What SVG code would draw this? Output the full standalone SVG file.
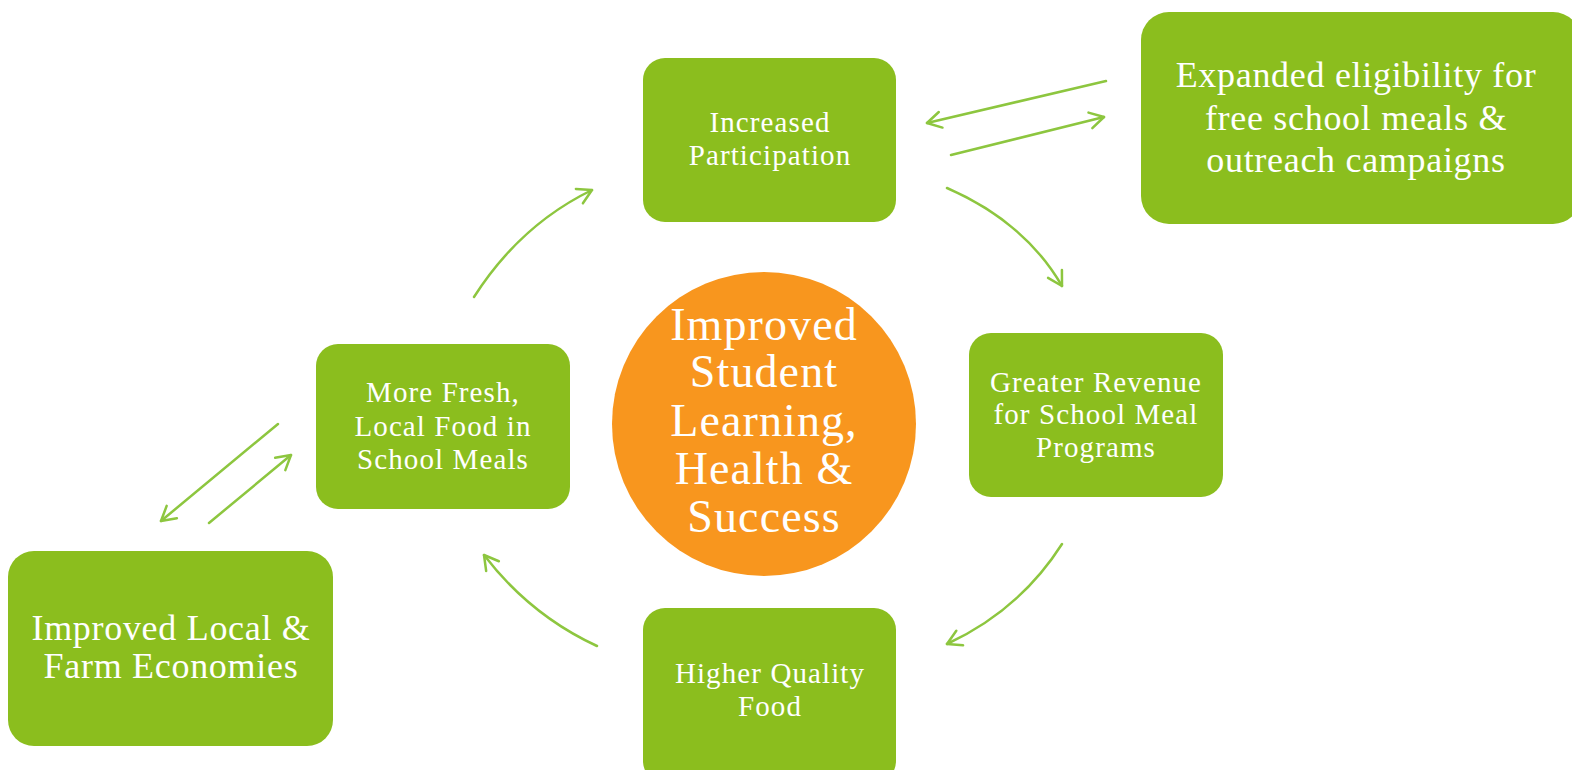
<svg xmlns="http://www.w3.org/2000/svg" width="1572" height="770" viewBox="0 0 1572 770">
<style>
.box{fill:#8BBE1E;}
.t{font-family:"Liberation Serif","DejaVu Serif",serif;fill:#ffffff;text-anchor:middle;}
.s{font-size:29px;letter-spacing:1.1px;}
.l{font-size:36px;letter-spacing:0.7px;}
.c{font-size:46px;letter-spacing:1.1px;}
.conn path{fill:none;stroke:#8DC63F;stroke-width:2.5;stroke-linecap:round;marker-end:url(#ah);}
</style>
<defs>
<marker id="ah" markerUnits="userSpaceOnUse" viewBox="-16 -10 18 20" refX="0" refY="0" markerWidth="18" markerHeight="20" orient="auto">
<path d="M-14,-8 L0,0 L-14,8" fill="none" stroke="#8DC63F" stroke-width="2.5" stroke-linecap="round" stroke-linejoin="round"/>
</marker>
</defs>
<rect width="1572" height="770" fill="#ffffff"/>
<g id="center">
<circle cx="764" cy="424" r="152" fill="#F8961E"/>
<text class="t c" x="764" y="340">Improved</text>
<text class="t c" x="764" y="387">Student</text>
<text class="t c" x="764" y="436">Learning,</text>
<text class="t c" x="764" y="484">Health &amp;</text>
<text class="t c" x="764" y="532">Success</text>
</g>
<g id="participation">
<rect class="box" x="643" y="58" width="253" height="164" rx="22"/>
<text class="t s" x="770" y="132">Increased</text>
<text class="t s" x="770" y="165">Participation</text>
</g>
<g id="eligibility">
<rect class="box" x="1141" y="12" width="440" height="212" rx="28"/>
<text class="t l" x="1356" y="87">Expanded eligibility for</text>
<text class="t l" x="1356" y="130">free school meals &amp;</text>
<text class="t l" x="1356" y="172">outreach campaigns</text>
</g>
<g id="revenue">
<rect class="box" x="969" y="333" width="254" height="164" rx="22"/>
<text class="t s" x="1096" y="392">Greater Revenue</text>
<text class="t s" x="1096" y="424">for School Meal</text>
<text class="t s" x="1096" y="457">Programs</text>
</g>
<g id="quality">
<rect class="box" x="643" y="608" width="253" height="175" rx="22"/>
<text class="t s" x="770" y="683">Higher Quality</text>
<text class="t s" x="770" y="716">Food</text>
</g>
<g id="fresh">
<rect class="box" x="316" y="344" width="254" height="165" rx="22"/>
<text class="t s" x="443" y="402">More Fresh,</text>
<text class="t s" x="443" y="436">Local Food in</text>
<text class="t s" x="443" y="469">School Meals</text>
</g>
<g id="economies">
<rect class="box" x="8" y="551" width="325" height="195" rx="26"/>
<text class="t l" x="171" y="640">Improved Local &amp;</text>
<text class="t l" x="171" y="678">Farm Economies</text>
</g>
<g id="connectors" class="conn">
<path d="M1106,81 L927,123"/>
<path d="M951,155 L1104,117"/>
<path d="M278,424 L161,521"/>
<path d="M209,523 L291,455"/>
<path d="M947,188 Q1025,222 1062,286"/>
<path d="M474,297 Q520,225 592,190"/>
<path d="M1062,544 Q1020,610 947,644"/>
<path d="M597,646 Q530,615 484,555"/>
</g>
</svg>
